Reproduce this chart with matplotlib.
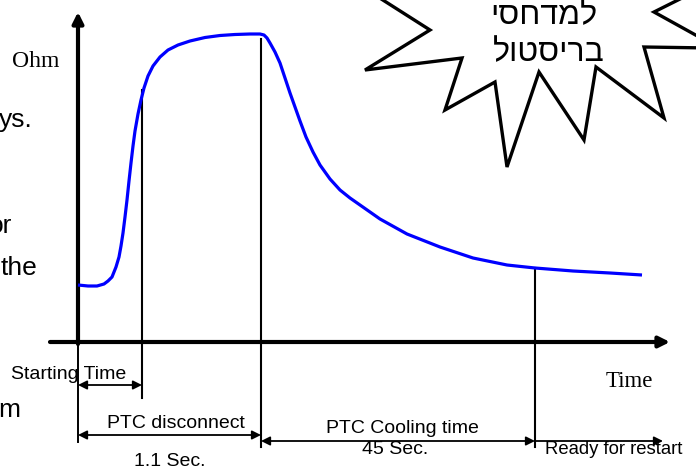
import matplotlib
matplotlib.use("Agg")
import matplotlib.pyplot as plt
from matplotlib.patches import Polygon

# ---- data (arbitrary units: time to the right, resistance upward; origin at axes crossing) ----
time_pts = [0, 10, 19, 26, 30, 34, 38, 41, 43, 45, 47, 49, 51, 53, 55, 57, 60, 63, 66, 70, 75, 82,
            90, 100, 112, 127, 142, 157, 172, 182, 186, 189, 192, 197, 202, 207, 212, 217, 222, 228,
            235, 242, 252, 262, 272, 282, 302, 329, 362, 395, 429, 457, 495, 532, 564]
ohm_pts = [57, 56, 56, 58, 61, 65, 75, 85, 96, 109, 125, 142, 161, 179, 196, 211, 228, 242, 254, 266,
           276, 285, 292, 297, 301, 304.5, 306.5, 307.5, 308, 308, 307, 304, 299, 290, 279, 264, 249,
           235, 221, 205, 190, 177, 163, 152, 144, 137, 123, 108, 95, 84, 77, 74, 71, 69, 67]

event_times = [64, 183, 457]          # starting time end, PTC disconnect, ready for restart
event_tops = [252, 303, 74]
event_bottoms = [-56, -105, -105]

# dimension arrows: (start, end, level, style)
dims = [(0, 64, -43, '<|-|>'), (0, 183, -93, '<|-|>'), (183, 457, -99, '<|-|>'), (457, 585, -99, '-|>')]

labels = [("Starting Time", -9, -37, 14), ("PTC disconnect", 98, -86, 14), ("1.1 Sec.", 92, -124, 14),
          ("PTC Cooling time", 324, -91, 14), ("45 Sec.", 317, -112, 14),
          ("Ready for restart", 536, -112, 13.3)]

hebrew_lines = ["למדחסי", "בריסטול"]
side_texts = [("ys.", -45, 215), ("or", -66, 109), ("the", -41, 67), ("m", -58, -75)]

star = [(375, -5), (430, 30), (365, 70), (462, 58), (445, 110), (495, 82), (507, 167), (539, 72),
        (584, 140), (596, 67), (664, 118), (644, 47), (710, 48), (710, 43), (654, 12), (688, -5),
        (688, -10), (375, -10)]

fig = plt.figure(figsize=(6.96, 4.67), dpi=100)
ax = fig.add_axes([0, 0, 1, 1])
ax.set_xlim(-78, 618)
ax.set_ylim(-125, 342)
ax.axis('off')

sans = ['Liberation Sans', 'DejaVu Sans']
serif = ['Liberation Serif', 'DejaVu Serif']

# starburst
poly = Polygon([(x - 78, 342 - y) for x, y in star], closed=True, facecolor='white',
               edgecolor='black', lw=2.4, joinstyle='miter', zorder=1)
ax.add_patch(poly)
for line, (cx, cy) in zip(hebrew_lines, [(466, 318), (471, 281)]):
    ax.text(cx, cy, line[::-1], ha='center', va='baseline', fontsize=23, family=sans, zorder=2)

# axes arrows
ax.annotate('', xy=(0, 330), xytext=(0, -2),
            arrowprops=dict(arrowstyle='-|>', lw=3, color='black', mutation_scale=16,
                            shrinkA=0, shrinkB=0), zorder=3)
ax.annotate('', xy=(592, 0), xytext=(-28, 0),
            arrowprops=dict(arrowstyle='-|>', lw=3, color='black', mutation_scale=16,
                            shrinkA=0, shrinkB=0), zorder=3)
ax.plot([0, 0], [0, -100], color='black', lw=1.4, zorder=3)

# event lines
for t, top, bot in zip(event_times, event_tops, event_bottoms):
    ax.plot([t, t], [bot, top], color='black', lw=1.5, zorder=3)

# curve
ax.plot(time_pts, ohm_pts, color='#0000FF', lw=2.3, solid_capstyle='butt',
        solid_joinstyle='round', zorder=4)

# dimension arrows
for a, b, lev, st in dims:
    ax.annotate('', xy=(b, lev), xytext=(a, lev),
                arrowprops=dict(arrowstyle=st, lw=1.3, color='black', mutation_scale=13,
                                shrinkA=0, shrinkB=0), zorder=3)

for txt, x, y, fs in labels:
    ax.text(x, y, txt, ha='center', va='baseline', fontsize=fs, family=sans, zorder=5)

ax.text(-42, 275, "Ohm", ha='center', va='baseline', fontsize=17, family=serif)
ax.text(551, -45, "Time", ha='center', va='baseline', fontsize=16.5, family=serif)

for txt, x, y in side_texts:
    ax.text(x, y, txt, ha='right', va='baseline', fontsize=19, family=sans)

fig.savefig('out.png', dpi=100)
